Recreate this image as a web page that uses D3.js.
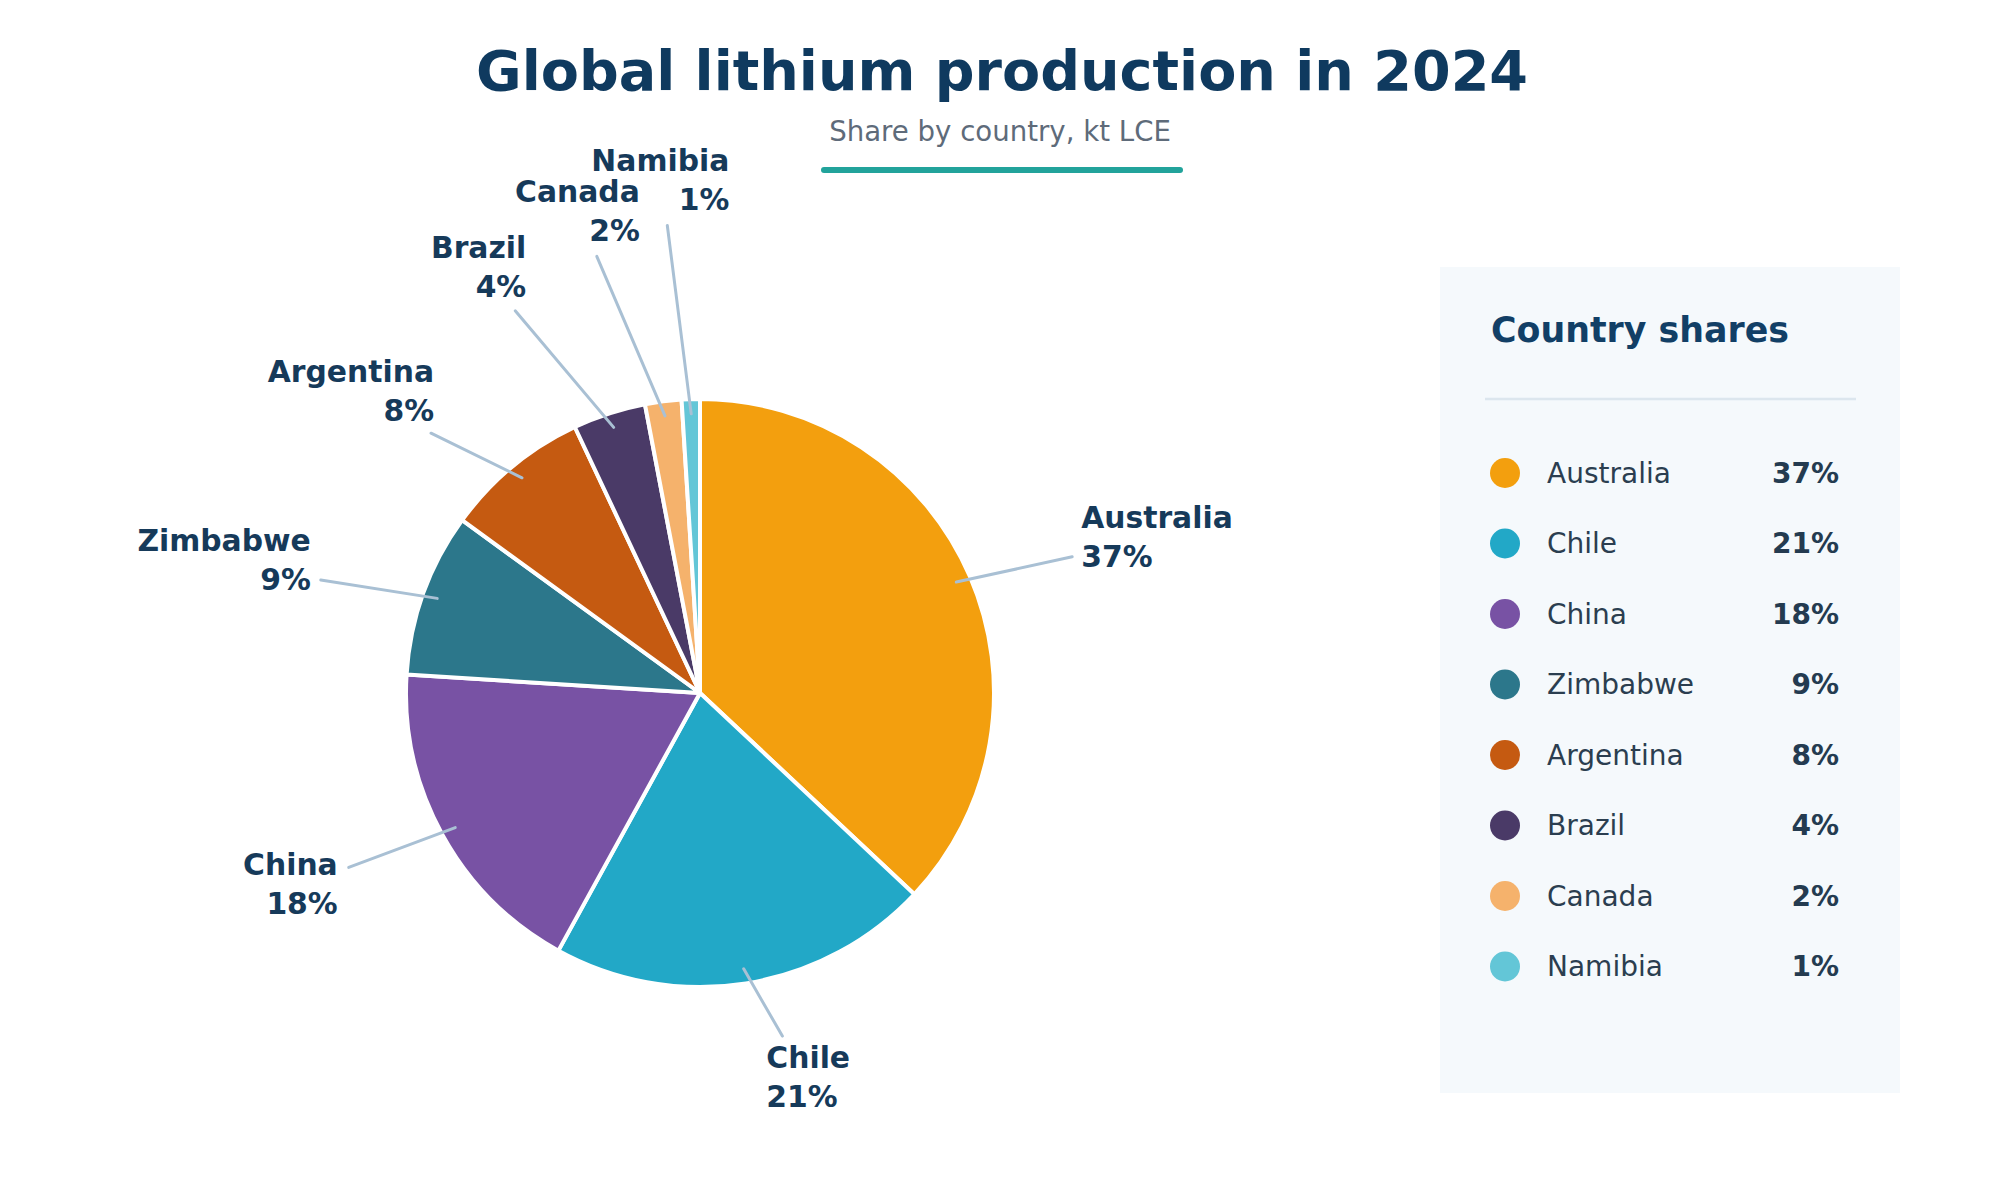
<!DOCTYPE html>
<html>
<head>
<meta charset="utf-8">
<script src="https://cdn.jsdelivr.net/npm/d3@7"></script>
<style>
  html, body { margin: 0; padding: 0; background: #ffffff; }
  svg { display: block; font-family: "DejaVu Sans", sans-serif; }
</style>
</head>
<body>
<svg id="chart" width="2000" height="1190"></svg>
<script>
// Chart data
const countries = ["Australia", "Chile", "China", "Zimbabwe", "Argentina", "Brazil", "Canada", "Namibia"];
const shares = [37, 21, 18, 9, 8, 4, 2, 1];
const sliceColors = ["#F39F0E", "#22A8C7", "#7852A4", "#2C778B", "#C55A11", "#4A3A67", "#F5B26C", "#63C6D7"];

const titleText = "Global lithium production in 2024";
const subtitleText = "Share by country, kt LCE";
const legendTitle = "Country shares";

const width = 2000, height = 1190;
const svg = d3.select("#chart");

// Title block
svg.append("text")
  .attr("x", 1002)
  .attr("y", 90)
  .attr("text-anchor", "middle")
  .attr("font-size", 55.6)
  .attr("font-weight", "bold")
  .attr("fill", "#0F3A5F")
  .text(titleText);

svg.append("text")
  .attr("x", 1000)
  .attr("y", 141)
  .attr("text-anchor", "middle")
  .attr("font-size", 27.6)
  .attr("fill", "#5E6B7A")
  .text(subtitleText);

svg.append("line")
  .attr("x1", 824).attr("x2", 1180)
  .attr("y1", 170).attr("y2", 170)
  .attr("stroke", "#22A39B")
  .attr("stroke-width", 6)
  .attr("stroke-linecap", "round");

// Pie
const cx = 700, cy = 693, radius = 294;
const data = countries.map((c, i) => ({ country: c, share: shares[i], color: sliceColors[i] }));

const pie = d3.pie().sort(null).value(d => d.share);
const arcs = pie(data);
const arc = d3.arc().innerRadius(0).outerRadius(radius);

const pieGroup = svg.append("g").attr("transform", `translate(${cx},${cy})`);

pieGroup.selectAll(".slice")
  .data(arcs)
  .join("path")
  .attr("class", "slice")
  .attr("d", arc)
  .attr("fill", d => d.data.color)
  .attr("stroke", "#ffffff")
  .attr("stroke-width", 4)
  .attr("stroke-linejoin", "round");

// Label layout: angle nudge (deg), outer radius factor, text anchor, text offset from leader end
const labelLayout = {
  Australia: { nudge: 3.3,  rf: 1.348, anchor: "start", dx: 9,   dy: -29 },
  Chile:     { nudge: -4.5, rf: 1.200, anchor: "start", dx: -16, dy: 32 },
  China:     { nudge: 2.4,  rf: 1.334, anchor: "end",   dx: -11, dy: 8 },
  Zimbabwe:  { nudge: -3.2, rf: 1.346, anchor: "end",   dx: -10, dy: -29 },
  Argentina: { nudge: -6.4, rf: 1.272, anchor: "end",   dx: 3,   dy: -51 },
  Brazil:    { nudge: -7.8, rf: 1.444, anchor: "end",   dx: 11,  dy: -53 },
  Canada:    { nudge: -6.1, rf: 1.526, anchor: "end",   dx: 43,  dy: -54 },
  Namibia:   { nudge: -2.2, rf: 1.594, anchor: "end",   dx: 62,  dy: -55 }
};

const polar = (angle, r) => [Math.sin(angle) * r, -Math.cos(angle) * r];

const labels = pieGroup.selectAll(".pie-label")
  .data(arcs)
  .join("g")
  .attr("class", "pie-label");

labels.each(function(d) {
  const g = d3.select(this);
  const lay = labelLayout[d.data.country];
  const mid = (d.startAngle + d.endAngle) / 2;
  const start = polar(mid, radius * 0.95);
  const end = polar(mid + lay.nudge * Math.PI / 180, radius * lay.rf);

  g.append("line")
    .attr("x1", start[0]).attr("y1", start[1])
    .attr("x2", end[0]).attr("y2", end[1])
    .attr("stroke", "#A9C0D4")
    .attr("stroke-width", 3)
    .attr("stroke-linecap", "round");

  const t = g.append("text")
    .attr("text-anchor", lay.anchor)
    .attr("font-size", 29.8)
    .attr("font-weight", "bold")
    .attr("fill", "#163A5A");

  t.append("tspan")
    .attr("x", end[0] + lay.dx)
    .attr("y", end[1] + lay.dy)
    .text(d.data.country);

  t.append("tspan")
    .attr("x", end[0] + lay.dx)
    .attr("y", end[1] + lay.dy + 39)
    .text(d.data.share + "%");
});

// Legend panel
const panel = svg.append("g").attr("transform", "translate(1440,267)");

panel.append("rect")
  .attr("width", 460)
  .attr("height", 826)
  .attr("fill", "#F5F9FC");

panel.append("text")
  .attr("x", 51)
  .attr("y", 75)
  .attr("font-size", 34.8)
  .attr("font-weight", "bold")
  .attr("fill", "#123F66")
  .text(legendTitle);

panel.append("line")
  .attr("x1", 45).attr("x2", 416)
  .attr("y1", 132).attr("y2", 132)
  .attr("stroke", "#DCE6EE")
  .attr("stroke-width", 2.5);

const rowY = d3.scalePoint()
  .domain(countries)
  .range([206, 699.5]);

const rows = panel.selectAll(".legend-row")
  .data(data)
  .join("g")
  .attr("class", "legend-row")
  .attr("transform", d => `translate(0,${rowY(d.country)})`);

rows.append("circle")
  .attr("cx", 65)
  .attr("cy", 0)
  .attr("r", 15)
  .attr("fill", d => d.color);

rows.append("text")
  .attr("x", 107)
  .attr("y", 9.5)
  .attr("font-size", 28)
  .attr("fill", "#2B3E50")
  .text(d => d.country);

rows.append("text")
  .attr("x", 399)
  .attr("y", 9.5)
  .attr("text-anchor", "end")
  .attr("font-size", 28)
  .attr("font-weight", "bold")
  .attr("fill", "#243B50")
  .text(d => d.share + "%");
</script>
</body>
</html>
